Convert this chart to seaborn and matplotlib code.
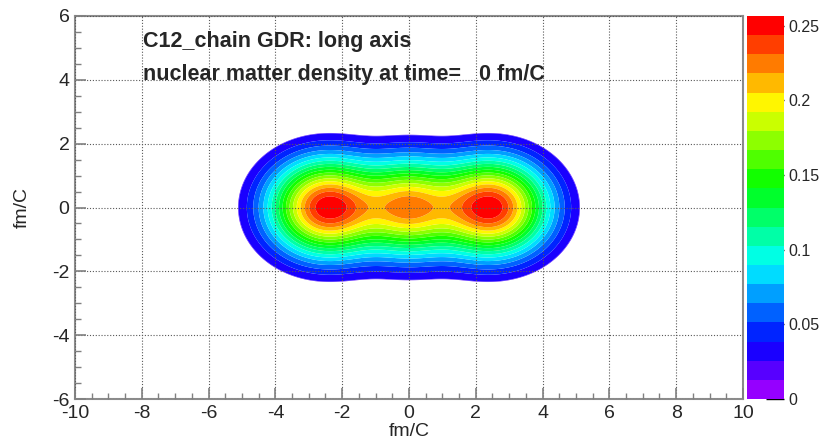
import colorsys

import numpy as np
import matplotlib
matplotlib.use("Agg")
import matplotlib.pyplot as plt
from matplotlib.cm import ScalarMappable
from matplotlib.colors import BoundaryNorm, ListedColormap
from matplotlib.ticker import FuncFormatter, MultipleLocator
import seaborn as sns

# Three alpha clusters on the long axis of the 12C chain (positions in fm)
cluster_x = [-2.44, 0.0, 2.44]
# Peak density of each cluster (fm^-3) and its Gaussian widths (fm)
cluster_amp = [0.253, 0.156, 0.253]
cluster_sigma_x = [1.76, 1.23, 1.76]
cluster_sigma_y = [1.53, 1.53, 1.53]
# Density below which the grid is left empty
density_floor = 0.025
n_contours = 20

x_ticks = [-10, -8, -6, -4, -2, 0, 2, 4, 6, 8, 10]
y_ticks = [-6, -4, -2, 0, 2, 4, 6]
cbar_ticks = [0, 0.05, 0.1, 0.15, 0.2, 0.25]
title_lines = ["C12_chain GDR: long axis",
               "nuclear matter density at time=   0 fm/C"]
axis_title = "fm/C"

sns.set_theme(style="ticks")
plt.rcParams["font.family"] = ["Liberation Sans", "DejaVu Sans"]
plt.rcParams["axes.unicode_minus"] = False

# density on a fine grid
gx = np.linspace(-10, 10, 1001)
gy = np.linspace(-6, 6, 601)
X, Y = np.meshgrid(gx, gy)
rho = np.zeros_like(X)
for xc, a, sx, sy in zip(cluster_x, cluster_amp, cluster_sigma_x, cluster_sigma_y):
    rho += a * np.exp(-((X - xc) / sx) ** 2 - (Y / sy) ** 2)

zmax = rho.max()
levels = np.linspace(0.0, zmax, n_contours + 1)

# violet -> red rainbow palette, one colour per contour band
hues = np.linspace(275, 0, n_contours) / 360.0
band_colors = sns.color_palette([colorsys.hls_to_rgb(h, 0.5, 1.0) for h in hues])

k0 = int(np.searchsorted(levels, density_floor)) - 1
draw_levels = np.concatenate([[density_floor], levels[k0 + 1:]])
draw_levels[-1] = zmax * 1.0001
draw_colors = band_colors[k0:]

fig = plt.figure(figsize=(8.2, 4.46), dpi=100)
W, H = 820, 446
ax = fig.add_axes([75 / W, 47 / H, 668 / W, 383 / H])
cax = fig.add_axes([747 / W, 47 / H, 37 / W, 383 / H])

ax.contourf(X, Y, rho, levels=draw_levels, colors=draw_colors, antialiased=True)

ax.set_xlim(-10, 10)
ax.set_ylim(-6, 6)
ax.set_xticks(x_ticks)
ax.set_yticks(y_ticks)
ax.xaxis.set_minor_locator(MultipleLocator(0.5))
ax.yaxis.set_minor_locator(MultipleLocator(0.5))
ax.set_axisbelow(False)
ax.grid(True, which="major", linestyle=(0, (1, 1.6)), color="0.35", linewidth=0.8)
ax.tick_params(which="major", direction="in", length=8, width=1.2, color="0.5",
               labelsize=14, pad=4, top=False, right=False)
ax.tick_params(which="minor", direction="in", length=4, width=1.0, color="0.5",
               top=False, right=False)
for sp in ax.spines.values():
    sp.set_color("0.55")
    sp.set_linewidth(1.5)

ax.set_xlabel(axis_title, fontsize=14)
ax.set_ylabel(axis_title, fontsize=14)
ax.xaxis.set_label_coords(0.5, -0.062)
ax.yaxis.set_label_coords(-0.066, 0.5)

ax.text(-7.96, 5.04, title_lines[0], fontsize=15.5, fontweight="bold", va="baseline")
ax.text(-7.96, 3.99, title_lines[1], fontsize=15.5, fontweight="bold", va="baseline")

sm = ScalarMappable(norm=BoundaryNorm(levels, n_contours),
                    cmap=ListedColormap(band_colors))
cb = fig.colorbar(sm, cax=cax, ticks=cbar_ticks, spacing="proportional")
cb.outline.set_visible(False)
cb.ax.yaxis.set_major_formatter(FuncFormatter(lambda v, p: f"{v:g}"))
cb.ax.minorticks_off()
cax.tick_params(direction="in", length=13, width=1.0, color="black",
                labelsize=11.5, pad=3)

fig.savefig("out.png", dpi=100)
